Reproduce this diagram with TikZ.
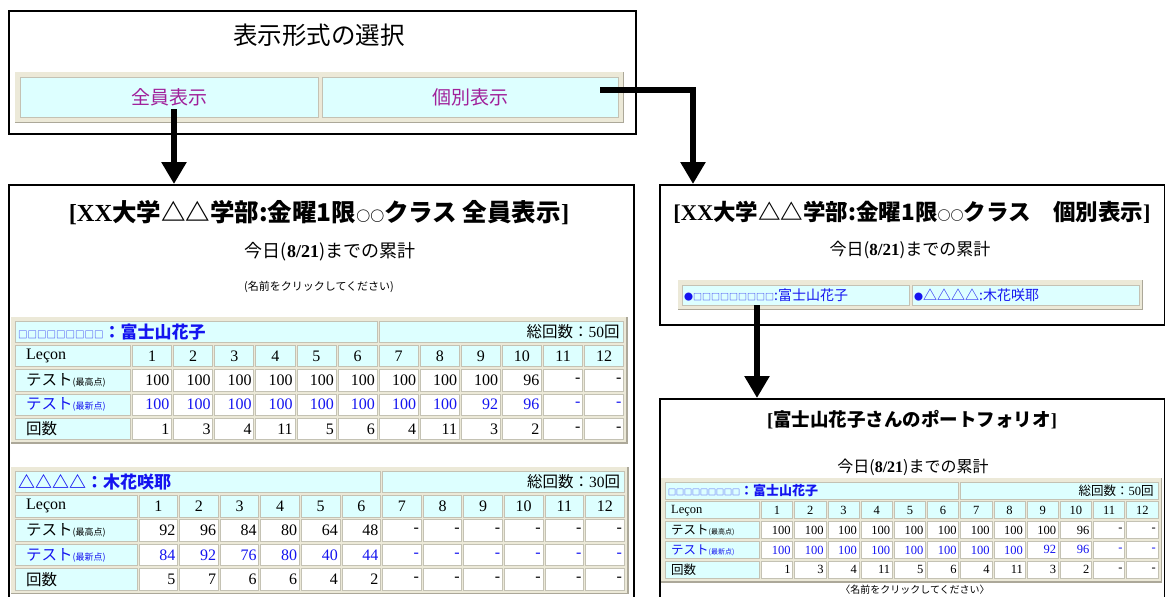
\documentclass[tikz,border=0pt]{standalone}
\usepackage{fontspec}
\setmainfont{Liberation Serif}
\newfontfamily\jp{Noto Sans CJK JP}
\usetikzlibrary{arrows.meta}
\definecolor{cyanbg}{HTML}{DDFFFF}
\definecolor{framebg}{HTML}{ECE9D8}
\definecolor{framelo}{HTML}{ACA899}
\definecolor{cellline}{HTML}{C4C2B4}
\definecolor{linkblue}{HTML}{1414F0}
\definecolor{visited}{HTML}{A0209A}
\newcommand\FSZ[1]{\fontsize{#1}{#1}\selectfont}
\tikzset{
 panel/.style={draw=black, line width=1.6pt, fill=white, anchor=north west, inner sep=0pt},
 cellc/.style={fill=cyanbg, draw=cellline, line width=0.8pt},
 cellw/.style={fill=white, draw=cellline, line width=0.8pt},
 bigarrow/.style={line width=6.5pt, line join=miter, -{Triangle[width=24pt,length=22pt]}},
 txt/.style={inner sep=0pt},
}
% table macro: #1 prefix, #2 name, #3 total, #4 max, #5 latest, #6 count
\newcommand\mytable[6]{%
 \pgfmathsetmacro\qRE{\qCA+12*\qCP-2}%
 \pgfmathsetmacro\qHM{\qCA+6*\qCP-2}%
 \pgfmathsetmacro\qFB{\qRT+4*\qRP+\qRH}%
 \fill[framebg] (\qTL-4,\qRT-4) rectangle (\qRE+4,\qFB+4);
 \draw[framelo, line width=1.6pt] (\qRE+3.5,\qRT-4) -- (\qRE+3.5,\qFB+3.5) -- (\qTL-4,\qFB+3.5);
 \draw[cellc] (\qTL,\qRT) rectangle (\qHM,\qRT+\qRH);
 \draw[cellc] (\qHM+2,\qRT) rectangle (\qRE,\qRT+\qRH);
 \node[txt,anchor=west,text=linkblue,font=\jp\bfseries\qQH] (#1-name) at (\qTL+3,\qRT+\qRH/2) {#2};
 \node[txt,anchor=east,font=\qTJ] (#1-total) at (\qRE-4,\qRT+\qRH/2) {#3};
 \foreach \r in {1,...,4} {\draw[cellc] (\qTL,\qRT+\r*\qRP) rectangle (\qCA-2,\qRT+\r*\qRP+\qRH);}
 \node[txt,anchor=west,font=\qTN] (#1-l1) at (\qTL+\qLI,\qRT+\qRP+\qRH/2) {Leçon};
 \node[txt,anchor=west,font=\jp\qTJ] (#1-l2) at (\qTL+\qLI,\qRT+2*\qRP+\qRH/2) {テスト{\qTS(最高点)}};
 \node[txt,anchor=west,font=\jp\qTJ,text=linkblue] (#1-l3) at (\qTL+\qLI,\qRT+3*\qRP+\qRH/2) {テスト{\qTS(最新点)}};
 \node[txt,anchor=west,font=\jp\qTJ] (#1-l4) at (\qTL+\qLI,\qRT+4*\qRP+\qRH/2) {回数};
 \foreach \i in {1,...,12} {
  \pgfmathsetmacro\xa{\qCA+(\i-1)*\qCP}
  \draw[cellc] (\xa,\qRT+\qRP) rectangle (\xa+\qCP-2,\qRT+\qRP+\qRH);
  \node[txt,font=\qTN] (#1-c\i) at (\xa+\qCP/2-1,\qRT+\qRP+\qRH/2) {\i};
 }
 \foreach \v [count=\i] in {#4} {
  \pgfmathsetmacro\xa{\qCA+(\i-1)*\qCP}
  \draw[cellw] (\xa,\qRT+2*\qRP) rectangle (\xa+\qCP-2,\qRT+2*\qRP+\qRH);
  \node[txt,anchor=east,font=\qTN] (#1-a\i) at (\xa+\qCP-4,\qRT+2*\qRP+\qRH/2) {\v};
 }
 \foreach \v [count=\i] in {#5} {
  \pgfmathsetmacro\xa{\qCA+(\i-1)*\qCP}
  \draw[cellw] (\xa,\qRT+3*\qRP) rectangle (\xa+\qCP-2,\qRT+3*\qRP+\qRH);
  \node[txt,anchor=east,font=\qTN,text=linkblue] (#1-b\i) at (\xa+\qCP-4,\qRT+3*\qRP+\qRH/2) {\v};
 }
 \foreach \v [count=\i] in {#6} {
  \pgfmathsetmacro\xa{\qCA+(\i-1)*\qCP}
  \draw[cellw] (\xa,\qRT+4*\qRP) rectangle (\xa+\qCP-2,\qRT+4*\qRP+\qRH);
  \node[txt,anchor=east,font=\qTN] (#1-n\i) at (\xa+\qCP-4,\qRT+4*\qRP+\qRH/2) {\v};
 }
}
\begin{document}
\begin{tikzpicture}[x=1pt,y=-1pt]
\useasboundingbox (0,0) rectangle (1165,597);
\clip (0,0) rectangle (1165,597);
% ---------- top selection box
\node[panel, minimum width=627pt, minimum height=123pt] (pT) at (8,10) {};
\node[txt, font=\jp\FSZ{24.5}] (tTitle) at (319,35) {表示形式の選択};
\fill[framebg] (15,72) rectangle (624,123);
\draw[framelo, line width=1.6pt] (623.5,72) -- (623.5,122.5) -- (15,122.5);
\node[cellc, anchor=north west, minimum width=298pt, minimum height=40pt, font=\jp\FSZ{19}, text=visited] (cAll) at (20,77) {全員表示};
\node[cellc, anchor=north west, minimum width=296pt, minimum height=40pt, font=\jp\FSZ{19}, text=visited] (cInd) at (322,77) {個別表示};
% ---------- panels
\node[panel, minimum width=625pt, minimum height=430pt] (pL) at (8,184) {};
\node[panel, minimum width=505pt, minimum height=140pt] (pR) at (659,184) {};
\node[panel, minimum width=505pt, minimum height=220pt] (pB) at (659,398) {};
% ---------- left panel
\node[txt, font=\FSZ{24.5}\bfseries] (lTitle) at (319,213) {[XX{\jp 大学△△学部:金曜1限{\FSZ{14}○○}クラス\ 全員表示}]};
\node[txt, font=\FSZ{18}] (lToday) at (330,252) {{\jp 今日(}\textbf{8/21}{\jp )までの累計}};
\node[txt, font=\jp\FSZ{11}] (lClick) at (319,287) {(名前をクリックしてください)};
\def\qTL{15}\def\qCA{132.5}\def\qCP{41.1}\def\qRT{321}\def\qRP{24.3}\def\qRH{21.5}\def\qLI{11}
\def\qTN{\FSZ{16}}\def\qTJ{\FSZ{15.5}}\def\qTS{\FSZ{9}}\def\qQH{\FSZ{17}}
\mytable{ta}{{\mdseries\FSZ{9.5}□□□□□□□□□}：富士山花子}{{\jp 総回数：}50{\jp 回}}
 {100,100,100,100,100,100,100,100,100,96,-,-}
 {100,100,100,100,100,100,100,100,92,96,-,-}
 {1,3,4,11,5,6,4,11,3,2,-,-}
\def\qCA{139}\def\qCP{40.6}\def\qRT{471}\def\qRP{24.4}
\mytable{tb}{△△△△：木花咲耶}{{\jp 総回数：}30{\jp 回}}
 {92,96,84,80,64,48,-,-,-,-,-,-}
 {84,92,76,80,40,44,-,-,-,-,-,-}
 {5,7,6,6,4,2,-,-,-,-,-,-}
% ---------- right top panel
\node[txt, font=\FSZ{22.5}\bfseries] (rTitle) at (912,212) {[XX{\jp 大学△△学部:金曜1限{\FSZ{13}○○}クラス\quad 個別表示}]};
\node[txt, font=\FSZ{17}] (rToday) at (910,250) {{\jp 今日(}\textbf{8/21}{\jp )までの累計}};
\fill[framebg] (678,280) rectangle (1143,310);
\draw[framelo, line width=1.6pt] (1142.5,280) -- (1142.5,309.5) -- (678,309.5);
\node[cellc, anchor=north west, minimum width=227pt, minimum height=20pt] (rc1) at (682,285) {};
\node[cellc, anchor=north west, minimum width=227pt, minimum height=20pt] (rc2) at (912,285) {};
\node[txt, anchor=west, text=linkblue, font=\jp\FSZ{14}] (rc1t) at (684,295) {{\FSZ{9}●□□□□□□□□□}:富士山花子};
\node[txt, anchor=west, text=linkblue, font=\jp\FSZ{14}] (rc2t) at (914,295) {{\FSZ{9}●}△△△△:木花咲耶};
% ---------- right bottom panel
\node[txt, font=\FSZ{18.5}\bfseries] (bTitle) at (912,420) {[{\jp 富士山花子さんのポートフォリオ}]};
\node[txt, font=\FSZ{16}] (bToday) at (913,467) {{\jp 今日(}\textbf{8/21}{\jp )までの累計}};
\def\qTL{665}\def\qCA{761.5}\def\qCP{33.2}\def\qRT{482}\def\qRP{19.8}\def\qRH{17}\def\qLI{6}
\def\qTN{\FSZ{12.5}}\def\qTJ{\FSZ{12.5}}\def\qTS{\FSZ{7}}\def\qQH{\FSZ{13}}
\mytable{tc}{{\mdseries\FSZ{8}□□□□□□□□□}：富士山花子}{{\jp 総回数：}50{\jp 回}}
 {100,100,100,100,100,100,100,100,100,96,-,-}
 {100,100,100,100,100,100,100,100,92,96,-,-}
 {1,3,4,11,5,6,4,11,3,2,-,-}
\node[txt, font=\jp\FSZ{10}] (bClick) at (915,590) {〈名前をクリックしてください〉};
% ---------- arrows
\coordinate (a1s) at (174,109);
\draw[bigarrow] (a1s) -- (a1s |- pL.north);
\coordinate (a2s) at (600,90);
\draw[bigarrow] (a2s) -| ([xshift=34pt]pR.north west);
\coordinate (a3s) at (757,305);
\draw[bigarrow] (a3s) -- (a3s |- pB.north);
\end{tikzpicture}
\end{document}
